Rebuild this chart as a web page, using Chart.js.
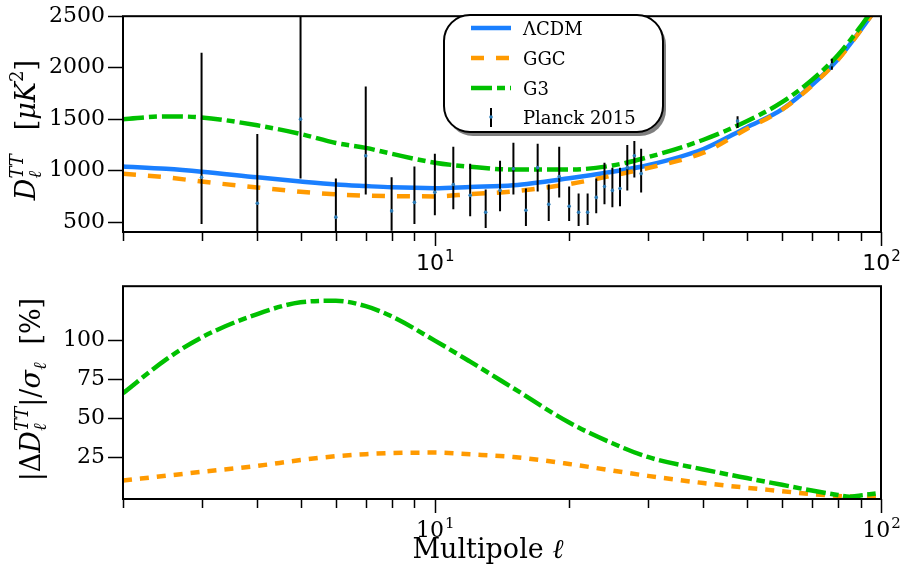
<!DOCTYPE html>
<html>
<head>
<meta charset="utf-8">
<script src="https://cdn.jsdelivr.net/npm/chart.js@4.4.0/dist/chart.umd.min.js"></script>
<style>
    html, body { margin: 0; padding: 0; background: #ffffff; }
    .figure { width: 912px; height: 576px; }
    .panel { display: block; }
</style>
</head>
<body>
<div class="figure">
    <canvas class="panel" id="top_chart" width="912" height="270"></canvas>
    <canvas class="panel" id="bottom_chart" width="912" height="306"></canvas>
</div>
<script>
//data
const seriesNames = ['\u039bCDM', 'GGC', 'G3', 'Planck 2015'];

const xMin = 2;
const xMax = 100;
const xMajorTicks = [10, 100];
const xMinorTicks = [2, 3, 4, 5, 6, 7, 8, 9, 20, 30, 40, 50, 60, 70, 80, 90];

const topYMin = 404;
const topYMax = 2500;
const topYTicks = [500, 1000, 1500, 2000, 2500];

const bottomYMin = -1.4;
const bottomYMax = 134.8;
const bottomYTicks = [25, 50, 75, 100];

// model spectra D_l^TT
const ellTop = [2, 2.5, 3, 4, 5, 6, 7, 8, 10, 12, 15, 20, 25, 30, 40, 50, 60, 70, 80, 90, 100];
const lcdmD = [1041, 1018, 990, 935, 895, 866, 850, 838, 830, 842, 858, 926, 990, 1052, 1210, 1420, 1595, 1830, 2080, 2365, 2640];
const ggcD = [970, 935, 894, 836, 795, 769, 758, 752, 750, 772, 798, 870, 952, 1025, 1175, 1405, 1592, 1825, 2075, 2362, 2640];
const g3D = [1500, 1527, 1517, 1440, 1356, 1269, 1221, 1164, 1077, 1038, 1010, 1010, 1050, 1130, 1300, 1480, 1665, 1880, 2120, 2400, 2680];

// Planck 2015 points with error bar ends
const planckEll = [3, 4, 5, 6, 7, 8, 9, 10, 11, 12, 13, 14, 15, 16, 17, 18, 19, 20, 21, 22, 23, 24, 25, 26, 27, 28, 29, 47.7, 77.6];
const planckD = [936, 683, 1500, 548, 1144, 609, 692, 789, 865, 760, 596, 808, 1019, 615, 1029, 673, 942, 654, 596, 596, 740, 846, 808, 827, 1029, 1144, 971, 1481, 2029];
const planckLow = [481, 300, 923, 350, 769, 416, 481, 567, 625, 558, 442, 606, 769, 462, 798, 510, 740, 510, 462, 471, 587, 673, 644, 654, 808, 933, 788, 1413, 1981];
const planckHigh = [2144, 1356, 2700, 923, 1817, 936, 1041, 1163, 1231, 1067, 817, 1096, 1270, 827, 1260, 865, 1231, 846, 779, 779, 923, 1077, 1029, 1029, 1250, 1289, 1212, 1529, 2087];

// |delta D| / sigma in percent
const ellBottom = [2, 2.5, 3, 4, 5, 6, 7, 8, 10, 12, 15, 20, 25, 30, 40, 50, 60, 70, 80, 85, 90, 100];
const ggcDiff = [10.4, 13.5, 16, 19.8, 23.5, 26, 27.3, 28, 28.3, 27.2, 25.5, 21, 16.8, 13.4, 8.8, 5.8, 3.6, 1.7, 0.6, 0.2, 0, 0];
const g3Diff = [66.3, 88, 102, 117, 124.5, 125.5, 122, 115.5, 100, 86.5, 69.5, 47.5, 34.3, 25.5, 17.5, 12, 7.7, 4, 1.2, 0, 0.9, 2.5];
//

const blue = '#1a7fff';
const orange = '#ff9a00';
const green = '#00c000';
const dotBlue = '#2c7bb6';
const serif = "'DejaVu Serif', serif";
const sans = "'DejaVu Sans', sans-serif";

Chart.defaults.font.family = serif;
Chart.defaults.color = '#000';

const toPoints = (xs, ys) => xs.map((x, i) => ({ x: x, y: ys[i] }));

const curve = (label, xs, ys, color, dash, order) => ({
    type: 'line',
    label: label,
    data: toPoints(xs, ys),
    borderColor: color,
    backgroundColor: color,
    borderWidth: 4.5,
    borderDash: dash,
    borderCapStyle: 'butt',
    pointRadius: 0,
    fill: false,
    cubicInterpolationMode: 'monotone',
    clip: 0,
    order: order
});

// error bars as one broken line: low, high, gap
const errorSegments = [];
planckEll.forEach((l, i) => {
    errorSegments.push({ x: l, y: planckLow[i] }, { x: l, y: planckHigh[i] }, { x: l, y: null });
});

// text runs for math-like axis titles
const layoutRuns = (ctx, runs) => {
    let x = 0, prevStart = 0, prevW = 0;
    const placed = [];
    runs.forEach(r => {
        ctx.font = r.font;
        const w = r.text ? ctx.measureText(r.text).width : 0;
        const start = r.stack ? prevStart : x;
        placed.push({ text: r.text, font: r.font, dy: r.dy || 0, x0: start });
        if (r.stack) {
            x = prevStart + Math.max(prevW, w);
        } else {
            x = start + w + (r.space || 0);
            prevStart = start;
            prevW = w;
        }
    });
    return { placed: placed, width: x };
};

const drawRotatedRuns = (ctx, runs, baseX, centerY) => {
    const lay = layoutRuns(ctx, runs);
    ctx.save();
    ctx.translate(baseX, centerY);
    ctx.rotate(-Math.PI / 2);
    ctx.fillStyle = '#000';
    ctx.textBaseline = 'alphabetic';
    ctx.textAlign = 'left';
    lay.placed.forEach(p => {
        if (!p.text) return;
        ctx.font = p.font;
        ctx.fillText(p.text, p.x0 - lay.width / 2, p.dy);
    });
    ctx.restore();
};

const F = 27, S = 18;
const topYTitle = [
    { text: 'D', font: `italic ${F}px ${serif}` },
    { text: 'TT', font: `italic ${S}px ${serif}`, dy: -12 },
    { text: '\u2113', font: `italic ${S}px ${serif}`, dy: 6, stack: true },
    { text: '', font: `${F}px ${serif}`, space: 24 },
    { text: '[', font: `${F}px ${serif}` },
    { text: '\u03bcK', font: `italic ${F}px ${serif}` },
    { text: '2', font: `${S}px ${serif}`, dy: -12 },
    { text: ']', font: `${F}px ${serif}` }
];
const bottomYTitle = [
    { text: '|\u0394', font: `${F}px ${serif}` },
    { text: 'D', font: `italic ${F}px ${serif}` },
    { text: 'TT', font: `italic ${S}px ${serif}`, dy: -12 },
    { text: '\u2113', font: `italic ${S}px ${serif}`, dy: 6, stack: true },
    { text: '|/', font: `${F}px ${serif}` },
    { text: '\u03c3', font: `italic ${F}px ${serif}` },
    { text: '\u2113', font: `italic ${S}px ${serif}`, dy: 6 },
    { text: '', font: `${F}px ${serif}`, space: 18 },
    { text: '[%]', font: `${F}px ${serif}` }
];

// frame, log ticks on x and axis titles
const makeFrame = (cfg) => ({
    id: 'frame_' + cfg.name,
    afterDraw(chart) {
        const ctx = chart.ctx;
        const a = chart.chartArea;
        const x = chart.scales.x;
        ctx.save();
        ctx.strokeStyle = '#000';
        ctx.lineWidth = 2;
        ctx.strokeRect(a.left, a.top, a.right - a.left, a.bottom - a.top);

        ctx.lineWidth = 1.5;
        ctx.beginPath();
        xMinorTicks.forEach(v => {
            const px = Math.round(x.getPixelForValue(v)) + 0.5;
            ctx.moveTo(px, a.bottom);
            ctx.lineTo(px, a.bottom + 9);
        });
        xMajorTicks.forEach(v => {
            const px = Math.round(x.getPixelForValue(v)) + 0.5;
            ctx.moveTo(px, a.bottom);
            ctx.lineTo(px, a.bottom + 14);
        });
        ctx.stroke();

        //tick labels 10^1, 10^2
        ctx.fillStyle = '#000';
        ctx.textBaseline = 'alphabetic';
        ctx.textAlign = 'left';
        xMajorTicks.forEach(v => {
            const exp = String(Math.round(Math.log10(v)));
            ctx.font = `22px ${cfg.tickFamily}`;
            const wBase = ctx.measureText('10').width;
            ctx.font = `15px ${cfg.tickFamily}`;
            const wExp = ctx.measureText(exp).width;
            const px = x.getPixelForValue(v);
            const start = px - (wBase + wExp) / 2;
            const base = a.bottom + 38;
            ctx.font = `22px ${cfg.tickFamily}`;
            ctx.fillText('10', start, base);
            ctx.font = `15px ${cfg.tickFamily}`;
            ctx.fillText(exp, start + wBase + 1, base - 9);
        });

        if (cfg.xTitle) {
            ctx.font = `27px ${serif}`;
            const w1 = ctx.measureText('Multipole ').width;
            ctx.font = `italic 27px ${serif}`;
            const w2 = ctx.measureText('\u2113').width;
            const start = 488 - (w1 + w2) / 2;
            ctx.font = `27px ${serif}`;
            ctx.fillText('Multipole ', start, a.bottom + 59);
            ctx.font = `italic 27px ${serif}`;
            ctx.fillText('\u2113', start + w1, a.bottom + 59);
        }

        drawRotatedRuns(ctx, cfg.yTitle, cfg.yTitleX, (a.top + a.bottom) / 2 + cfg.yTitleShift);
        ctx.restore();
    }
});

// rounded legend box with shadow
const legendPlugin = {
    id: 'roundLegend',
    afterDraw(chart) {
        const ctx = chart.ctx;
        const box = { left: 444, top: 15, w: 219, h: 117, r: 26 };
        ctx.save();
        ctx.fillStyle = 'rgba(0, 0, 0, 0.5)';
        ctx.beginPath();
        ctx.roundRect(box.left + 3, box.top + 4, box.w, box.h, box.r);
        ctx.fill();
        ctx.fillStyle = '#fff';
        ctx.strokeStyle = '#000';
        ctx.lineWidth = 2;
        ctx.beginPath();
        ctx.roundRect(box.left, box.top, box.w, box.h, box.r);
        ctx.fill();
        ctx.stroke();

        const rows = [28, 58, 88, 117];
        const styles = [
            { color: blue, dash: [] },
            { color: orange, dash: [13, 12] },
            { color: green, dash: [21, 5, 8, 5] }
        ];
        styles.forEach((s, i) => {
            ctx.strokeStyle = s.color;
            ctx.lineWidth = 4.5;
            ctx.lineCap = 'butt';
            ctx.setLineDash(s.dash);
            ctx.beginPath();
            ctx.moveTo(471, rows[i]);
            ctx.lineTo(511, rows[i]);
            ctx.stroke();
        });
        ctx.setLineDash([]);
        ctx.strokeStyle = '#000';
        ctx.lineWidth = 2;
        ctx.beginPath();
        ctx.moveTo(491, rows[3] - 9);
        ctx.lineTo(491, rows[3] + 10);
        ctx.stroke();
        ctx.fillStyle = dotBlue;
        ctx.beginPath();
        ctx.arc(491, rows[3], 1.8, 0, Math.PI * 2);
        ctx.fill();

        ctx.fillStyle = '#000';
        ctx.font = `18px ${serif}`;
        ctx.textBaseline = 'alphabetic';
        seriesNames.forEach((name, i) => {
            ctx.fillText(name, 523, rows[i] + 7);
        });
        ctx.restore();
    }
};

const yAxis = (min, max, ticks) => ({
    type: 'linear',
    min: min,
    max: max,
    afterBuildTicks: (scale) => {
        scale.ticks = ticks.map(v => ({ value: v }));
    },
    ticks: {
        font: { family: serif, size: 22 },
        color: '#000',
        padding: 3,
        callback: (value) => String(value)
    },
    grid: {
        display: true,
        drawOnChartArea: false,
        drawTicks: true,
        tickLength: 15,
        tickColor: '#000',
        tickWidth: 1.5
    },
    border: { display: false },
    afterFit: (scale) => { scale.width = 123; }
});

const xAxis = (height) => ({
    type: 'logarithmic',
    min: xMin,
    max: xMax,
    ticks: { display: false },
    grid: { display: false },
    border: { display: false },
    afterFit: (scale) => { scale.height = height; }
});

//top panel: spectra
new Chart(document.getElementById('top_chart'), {
    type: 'line',
    data: {
        datasets: [
            {
                type: 'scatter',
                label: seriesNames[3],
                data: toPoints(planckEll, planckD),
                pointRadius: 1.8,
                pointBorderWidth: 0,
                backgroundColor: dotBlue,
                showLine: false,
                clip: 0,
                order: 0
            },
            {
                type: 'line',
                label: 'errors',
                data: errorSegments,
                borderColor: '#000',
                borderWidth: 2,
                pointRadius: 0,
                spanGaps: false,
                tension: 0,
                clip: 0,
                order: 1
            },
            curve(seriesNames[2], ellTop, g3D, green, [21, 5, 8, 5], 2),
            curve(seriesNames[1], ellTop, ggcD, orange, [13, 12], 3),
            curve(seriesNames[0], ellTop, lcdmD, blue, [], 4)
        ]
    },
    options: {
        responsive: false,
        animation: false,
        events: [],
        layout: { padding: { top: 14, right: 31, left: 0, bottom: 0 } },
        plugins: {
            legend: { display: false },
            tooltip: { enabled: false }
        },
        scales: {
            x: xAxis(38),
            y: yAxis(topYMin, topYMax, topYTicks)
        }
    },
    plugins: [
        makeFrame({ name: 'top', tickFamily: sans, xTitle: false, yTitle: topYTitle, yTitleX: 35, yTitleShift: 6 }),
        legendPlugin
    ]
});

//bottom panel: relative difference
new Chart(document.getElementById('bottom_chart'), {
    type: 'line',
    data: {
        datasets: [
            curve(seriesNames[2], ellBottom, g3Diff, green, [20, 4.5, 8.5, 4.5], 0),
            curve(seriesNames[1], ellBottom, ggcDiff, orange, [9, 8], 1)
        ]
    },
    options: {
        responsive: false,
        animation: false,
        events: [],
        layout: { padding: { top: 11, right: 31, left: 0, bottom: 0 } },
        plugins: {
            legend: { display: false },
            tooltip: { enabled: false }
        },
        scales: {
            x: xAxis(77),
            y: yAxis(bottomYMin, bottomYMax, bottomYTicks)
        }
    },
    plugins: [
        makeFrame({ name: 'bottom', tickFamily: serif, xTitle: true, yTitle: bottomYTitle, yTitleX: 40, yTitleShift: -3 })
    ]
});
</script>
</body>
</html>
